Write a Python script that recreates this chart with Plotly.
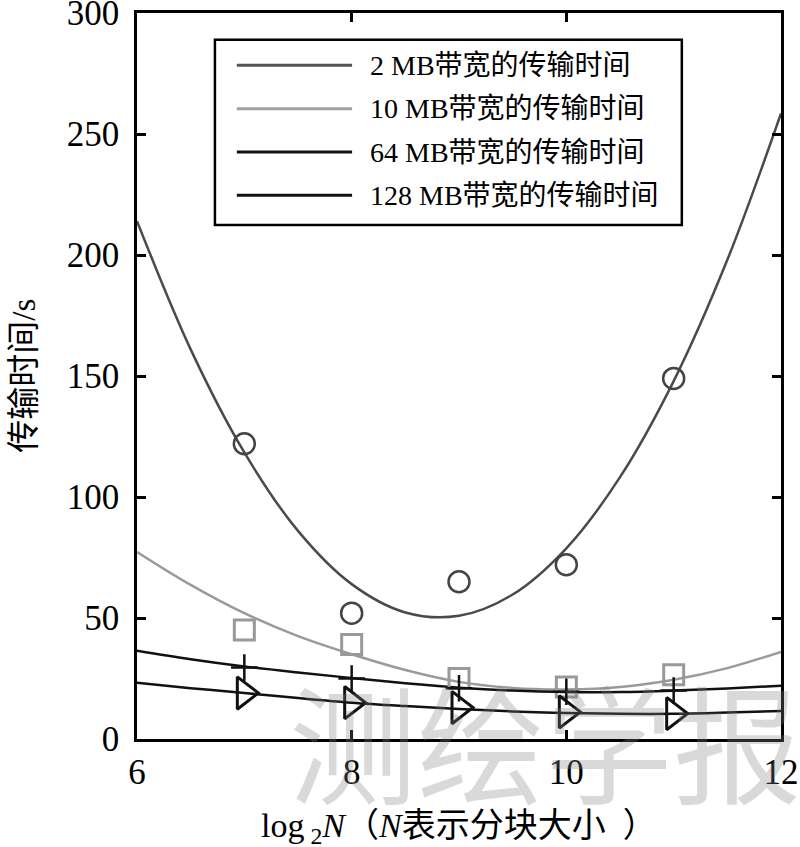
import plotly.graph_objects as go

# measured points (log2 N vs transfer time in s)
block_exp = [7, 8, 9, 10, 11]
t_2mb = [122, 52, 65, 72, 149]
t_10mb = [45, 39, 25, 21.5, 26.5]
t_64mb = [29.5, 25, 21, 19.5, 20]
t_128mb = [19, 15, 13, 11.2, 10.5]

# fitted curves, every half step
curve_x = [6, 6.5, 7, 7.5, 8, 8.5, 9, 9.5, 10, 10.5, 11, 11.5, 12]
fit_2mb = [214, 161, 118.4, 86, 64, 52.3, 50.9, 59.7, 78.8, 108.2, 147.9, 198, 258.5]
fit_10mb = [77.3, 63.7, 52, 42.5, 35, 28.5, 23.6, 21.1, 20.5, 21.5, 24.5, 29.3, 36]
fit_64mb = [36.5, 33, 30, 27.5, 25.2, 23, 21.2, 20, 19.4, 19.4, 20, 20.9, 22]
fit_128mb = [23.2, 21, 19, 16.9, 15, 13.6, 12.4, 11.4, 10.7, 10.4, 10.4, 10.9, 11.6]

legend_labels = ["2 MB带宽的传输时间", "10 MB带宽的传输时间",
                 "64 MB带宽的传输时间", "128 MB带宽的传输时间"]

FONT = "Liberation Serif, Times New Roman, Noto Sans CJK SC, serif"

fig = go.Figure()

# fitted curves
curve_sets = [
    (fit_2mb, '#4a4a4a'),
    (fit_10mb, '#9a9a9a'),
    (fit_64mb, '#111111'),
    (fit_128mb, '#111111'),
]
for vals, col in curve_sets:
    fig.add_trace(go.Scatter(x=curve_x, y=vals, mode='lines',
                             line=dict(color=col, width=2.5, shape='spline', smoothing=1.0),
                             showlegend=False, hoverinfo='skip'))

# markers
fig.add_trace(go.Scatter(x=block_exp, y=t_2mb, mode='markers', showlegend=False,
                         marker=dict(symbol='circle-open', size=21, color='#444444',
                                     line=dict(width=2.5, color='#444444'))))
fig.add_trace(go.Scatter(x=block_exp, y=t_10mb, mode='markers', showlegend=False,
                         marker=dict(symbol='square-open', size=20, color='#999999',
                                     line=dict(width=3, color='#999999'))))
fig.add_trace(go.Scatter(x=block_exp, y=t_64mb, mode='markers', showlegend=False,
                         marker=dict(symbol='cross-thin-open', size=19, color='#111111',
                                     line=dict(width=2.5, color='#111111'))))
fig.add_trace(go.Scatter(x=block_exp, y=t_128mb, mode='markers', showlegend=False,
                         marker=dict(symbol='triangle-right-open', size=28, color='#111111',
                                     line=dict(width=3, color='#111111'))))

# hand-made legend box (long line samples like the original)
legend_cols = ['#555555', '#a0a0a0', '#111111', '#111111']
row_y = [0.928, 0.868, 0.8085, 0.749]
fig.add_shape(type='rect', xref='paper', yref='paper', x0=0.121, x1=0.846, y0=0.708, y1=0.963,
              line=dict(color='black', width=2.5), fillcolor='white', layer='above')
for lab, col, ry in zip(legend_labels, legend_cols, row_y):
    fig.add_shape(type='line', xref='paper', yref='paper', x0=0.155, x1=0.334, y0=ry, y1=ry,
                  line=dict(color=col, width=3), layer='above')
    fig.add_annotation(xref='paper', yref='paper', x=0.358, y=ry, text=lab, showarrow=False,
                       xanchor='left', yanchor='middle', font=dict(family=FONT, size=28, color='black'))

# watermark, translucent so ticks and lines show through
fig.add_annotation(xref='paper', yref='paper', x=0.634, y=0.0, text="测绘学报", showarrow=False,
                   xanchor='center', yanchor='middle',
                   font=dict(family="Noto Sans CJK SC", size=128, color='rgba(128,128,128,0.3)'))

# axis titles
fig.add_annotation(xref='paper', yref='paper', x=-0.176, y=0.5, text="传输时间/s", showarrow=False,
                   textangle=-90, xanchor='center', yanchor='middle',
                   font=dict(family=FONT, size=33, color='black'))
fig.add_annotation(xref='paper', yref='paper', x=0.5, y=-0.122,
                   text="log<sub> 2</sub><i>N</i>（<i>N</i>表示分块大小  ）", showarrow=False,
                   xanchor='center', yanchor='middle',
                   font=dict(family=FONT, size=34, color='black'))

axis_style = dict(showline=True, linecolor='black', linewidth=2.5, mirror='ticks',
                  ticks='inside', ticklen=9, tickwidth=2.5, tickcolor='black',
                  showgrid=False, zeroline=False, automargin=False,
                  ticklabeloverflow='allow',
                  tickfont=dict(family=FONT, size=35, color='black'))
fig.update_xaxes(range=[6, 12], dtick=2, **axis_style)
fig.update_yaxes(range=[0, 300], dtick=50, ticklabelstandoff=8, **axis_style)

fig.update_layout(width=800, height=847, plot_bgcolor='white', paper_bgcolor='white',
                  margin=dict(l=137, r=19, t=13, b=108), showlegend=False)

# drop the default 8px body margin so the figure fills the window exactly
fig.write_html("out.html", config={'displayModeBar': False},
               post_script="document.body.style.margin='0px';")
